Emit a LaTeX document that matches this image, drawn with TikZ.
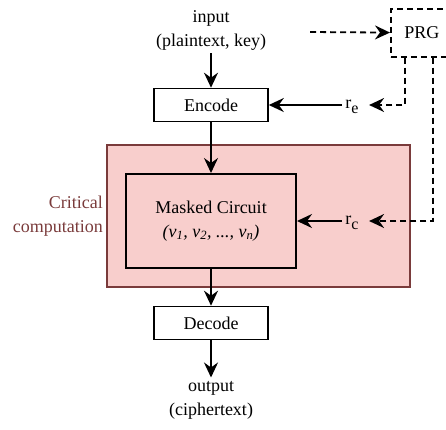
\documentclass[tikz,border=0pt]{standalone}
\usepackage{fontspec}
\setmainfont{Liberation Serif}
\usepackage{xcolor}
\usetikzlibrary{shapes}
\usetikzlibrary{calc}
\usetikzlibrary{arrows.meta}
\definecolor{critfill}{HTML}{F8CECC}
\definecolor{critdraw}{HTML}{7A3B3B}
\newcommand{\rsub}[1]{r\raisebox{-5pt}{\fontsize{16}{16}\selectfont #1}}
\tikzset{ op_box/.style = {rectangle, draw, line width=1.6pt, minimum width=114pt, minimum height=33pt, align=center, fill=white} }
\tikzset{ flow/.style = {-{Stealth[length=15pt,width=14pt,inset=5pt]}, line width=1.8pt} }
\tikzset{ rand_flow/.style = {flow, dash pattern=on 6pt off 4pt, shorten >=7pt} }

\begin{document}
\begin{tikzpicture}[x=1pt, y=-1pt, font=\fontsize{18}{24}\selectfont]
            \useasboundingbox (0,0) rectangle (446,429);
            \clip (0,0) rectangle (446,429);
            \node[rectangle, fill=critfill, draw=critdraw, line width=1.5pt, minimum width=303pt, minimum height=142pt] (crit) at (258.5,216) {};
            \node[text=critdraw, align=right, anchor=east, inner sep=0] (critlbl) at (103,216.5) {Critical\\computation};
            \node[align=center] (in) at (211,30) {input\\(plaintext, key)};
            \node[op_box] (enc) at (211,105) {Encode};
            \node[op_box, fill=critfill, line width=2pt, minimum width=170pt, minimum height=94pt] (mask) at (211,221) {Masked Circuit\\\textit{(v\textsubscript{1}, v\textsubscript{2}, ..., v\textsubscript{n})}};
            \node[op_box] (dec) at (211,323) {Decode};
            \node[align=center] (out) at (211,400) {output\\(ciphertext)};
            \node (re) at (352,107) {\rsub{e}};
            \node (rc) at (352,223) {\rsub{c}};
            \node[draw, line width=1.6pt, dash pattern=on 6pt off 4pt, minimum width=62pt, minimum height=48pt, anchor=north west] (prg) at (390,8) {PRG};
            \coordinate (seed) at (310,32);
            \draw[flow] (in) to (enc);
            \draw[flow] (enc) to (mask);
            \draw[flow] (mask) to (dec);
            \draw[flow] (dec) to (out);
            \draw[flow] (re.west |- enc) to (enc);
            \draw[flow] (rc.west |- mask) to (mask);
            \draw[rand_flow, shorten >=0pt] (seed) to (prg);
            \draw[rand_flow] ($(prg.south west)+(15,0)$) |- (re.east |- enc);
            \draw[rand_flow] ($(prg.south west)+(43,0)$) |- (rc.east |- mask);
        \end{tikzpicture}
\end{document}
